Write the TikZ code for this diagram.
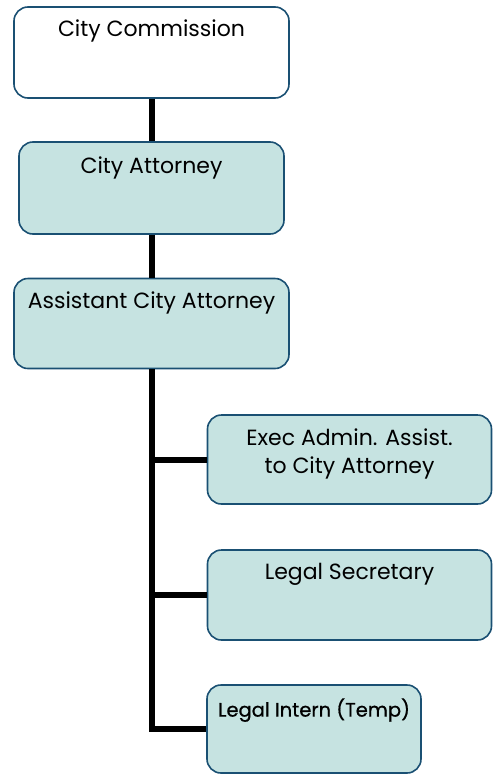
\documentclass[tikz,border=0pt]{standalone}
\usepackage{fontspec}
\setmainfont{Poppins}
\newfontfamily\internfont{Poppins}[FakeBold=0.8]
\usetikzlibrary{positioning}
\definecolor{postfill}{RGB}{198,227,225}
\definecolor{postline}{RGB}{26,80,115}
\tikzset{
  post/.style={draw=postline, line width=1.6pt, rounded corners=14pt, fill=postfill, inner sep=0pt},
  chief/.style={post, fill=white},
  posttext/.style={inner sep=0pt, align=center, font=\fontsize{22}{28}\selectfont},
  trunk/.style={line width=6pt}
}

\begin{document}
\begin{tikzpicture}[x=1pt,y=1pt]
\useasboundingbox (0,0) rectangle (493,-774);
% chain at the top
\node [chief, minimum width=275pt, minimum height=91pt] (comm) at (151.5,-52.5) {};
\node [post, minimum width=265pt, minimum height=92pt] (atty) at (151.5,-188) {};
\node [post, minimum width=275pt, minimum height=90pt] (asst) at (151.5,-323.5) {};
% staff
\node [post, minimum width=284pt, minimum height=89pt] (exec) at (349.5,-459.5) {};
\node [post, minimum width=284pt, minimum height=90pt] (sec) at (349.5,-595) {};
\node [post, minimum width=214pt, minimum height=88pt] (intern) at (314,-729) {};
% texts
\node [posttext, below=13pt of comm.north] (comm-t) {City Commission};
\node [posttext, below=15pt of atty.north] (atty-t) {City Attorney};
\node [posttext, below=14pt of asst.north] (asst-t) {Assistant City Attorney};
\node [posttext, below=14pt of exec.north] (exec-t) {Exec Admin. Assist.\\to City Attorney};
\node [posttext, below=14pt of sec.north] (sec-t) {Legal Secretary};
\node [posttext, below=14pt of intern.north, font=\internfont\fontsize{19.5}{24}\selectfont] (intern-t) {Legal Intern (Temp)};
% lines
\draw [trunk] (comm) -- (atty);
\draw [trunk] (atty) -- (asst);
\draw [trunk] (asst.south) |- (exec.west);
\draw [trunk] (asst.south) |- (sec.west);
\draw [trunk] (asst.south) |- (intern.west);
\end{tikzpicture}
\end{document}
